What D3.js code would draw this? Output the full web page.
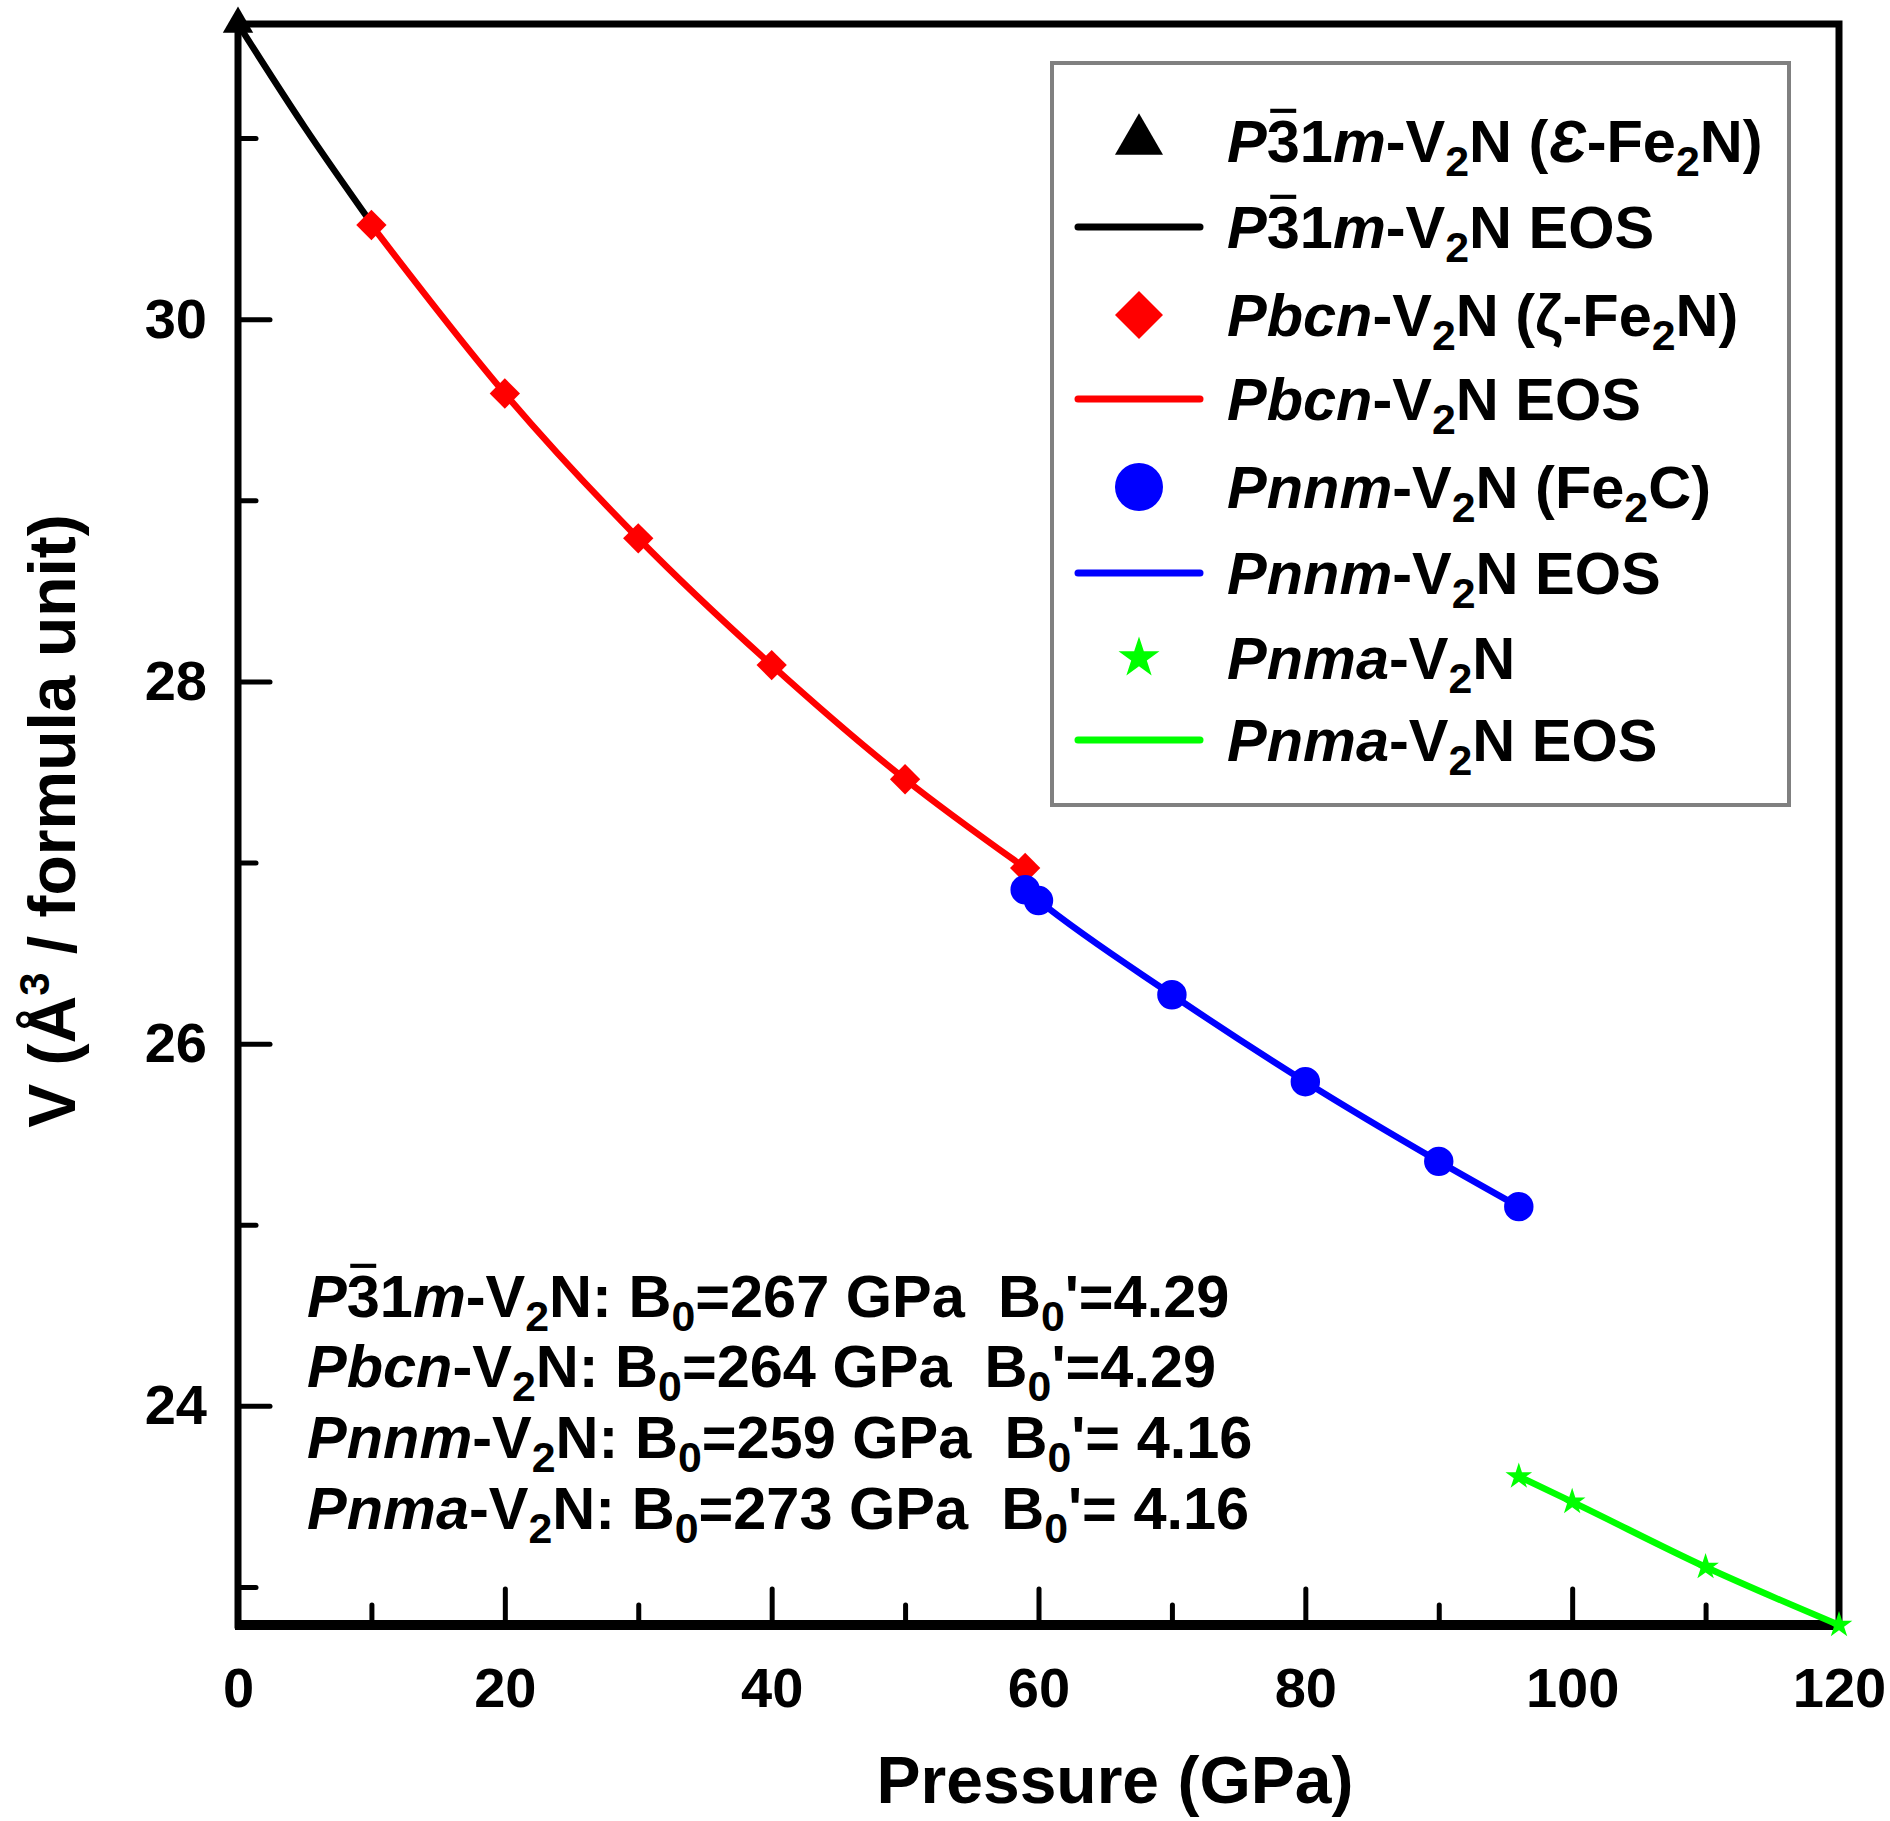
<!DOCTYPE html>
<html>
<head>
<meta charset="utf-8">
<script src="https://cdn.jsdelivr.net/npm/d3@7"></script>
<style>
  body { margin: 0; background: #fff; }
  text { font-family: "Liberation Sans", Arial, Helvetica, sans-serif; font-weight: bold; }
</style>
</head>
<body>
<div id="chart"></div>
<script>
// data (pressure in GPa, volume in A^3 per formula unit)
var p31mP = [0],
    p31mV = [31.63];
var p31mEosP = [0, 5, 10],
    p31mEosV = [31.63, 31.06, 30.53];
var pbcnP = [10, 20, 30, 40, 50, 59],
    pbcnV = [30.52, 29.59, 28.79, 28.09, 27.46, 26.97];
var pnnmP = [59, 60, 70, 80, 90, 96],
    pnnmV = [26.85, 26.79, 26.27, 25.79, 25.35, 25.10];
var pnmaP = [96, 100, 110, 120],
    pnmaV = [23.61, 23.47, 23.11, 22.79];

var xMajorTicks = [0, 20, 40, 60, 80, 100, 120],
    xMinorTicks = [10, 30, 50, 70, 90, 110],
    yMajorTicks = [24, 26, 28, 30],
    yMinorTicks = [23, 25, 27, 29, 31];

var legendLabels = [
  [{t: "P", i: 1}, {t: "3", bar: 1}, {t: "1"}, {t: "m", i: 1}, {t: "-V"}, {t: "2", sub: 1}, {t: "N ("}, {t: "\u0190", i: 1}, {t: "-Fe"}, {t: "2", sub: 1}, {t: "N)"}],
  [{t: "P", i: 1}, {t: "3", bar: 1}, {t: "1"}, {t: "m", i: 1}, {t: "-V"}, {t: "2", sub: 1}, {t: "N EOS"}],
  [{t: "Pbcn", i: 1}, {t: "-V"}, {t: "2", sub: 1}, {t: "N (\u03b6-Fe"}, {t: "2", sub: 1}, {t: "N)"}],
  [{t: "Pbcn", i: 1}, {t: "-V"}, {t: "2", sub: 1}, {t: "N EOS"}],
  [{t: "Pnnm", i: 1}, {t: "-V"}, {t: "2", sub: 1}, {t: "N (Fe"}, {t: "2", sub: 1}, {t: "C)"}],
  [{t: "Pnnm", i: 1}, {t: "-V"}, {t: "2", sub: 1}, {t: "N EOS"}],
  [{t: "Pnma", i: 1}, {t: "-V"}, {t: "2", sub: 1}, {t: "N"}],
  [{t: "Pnma", i: 1}, {t: "-V"}, {t: "2", sub: 1}, {t: "N EOS"}]
];

var noteLabels = [
  [{t: "P", i: 1}, {t: "3", bar: 1}, {t: "1"}, {t: "m", i: 1}, {t: "-V"}, {t: "2", sub: 1}, {t: "N: B"}, {t: "0", sub: 1}, {t: "=267 GPa  B"}, {t: "0", sub: 1}, {t: "'=4.29"}],
  [{t: "Pbcn", i: 1}, {t: "-V"}, {t: "2", sub: 1}, {t: "N: B"}, {t: "0", sub: 1}, {t: "=264 GPa  B"}, {t: "0", sub: 1}, {t: "'=4.29"}],
  [{t: "Pnnm", i: 1}, {t: "-V"}, {t: "2", sub: 1}, {t: "N: B"}, {t: "0", sub: 1}, {t: "=259 GPa  B"}, {t: "0", sub: 1}, {t: "'= 4.16"}],
  [{t: "Pnma", i: 1}, {t: "-V"}, {t: "2", sub: 1}, {t: "N: B"}, {t: "0", sub: 1}, {t: "=273 GPa  B"}, {t: "0", sub: 1}, {t: "'= 4.16"}]
];

var width = 1890,
    height = 1821,
    plotLeft = 238, plotRight = 1839, plotTop = 24, plotBottom = 1625;

var svg = d3.select("#chart")
            .append("svg")
            .attr("width", width)
            .attr("height", height)
            .style("background", "#fff");

var x = d3.scaleLinear().domain([0, 120]).range([plotLeft, plotRight]);
var y = d3.scaleLinear().domain([22.79, 31.63]).range([plotBottom, plotTop]);

// text made of pieces: italics, subscripts and the bar over the 3
function richText(parent, px, py, parts, size) {
  var t = parent.append("text")
                .attr("x", px)
                .attr("y", py)
                .attr("font-size", size)
                .style("white-space", "pre");
  var shift = 0, idx = 0, bars = [];
  parts.forEach(function(p) {
    var ts = t.append("tspan").text(p.t);
    if (p.i) ts.attr("font-style", "italic");
    var want = 0;
    if (p.sub) { want = size * 0.24; ts.attr("font-size", size * 0.72); }
    ts.attr("dy", want - shift);
    shift = want;
    if (p.bar) bars.push(idx);
    idx += p.t.length;
  });
  bars.forEach(function(k) {
    var s = t.node().getStartPositionOfChar(k),
        e = t.node().getEndPositionOfChar(k);
    parent.append("line")
          .attr("x1", s.x + size * 0.06)
          .attr("x2", e.x - size * 0.06)
          .attr("y1", py - size * 0.86)
          .attr("y2", py - size * 0.86)
          .attr("stroke", "#000")
          .attr("stroke-width", size * 0.07);
  });
  return t;
}

// ticks, inward, on left and bottom only
function styleAxis(g) {
  g.select(".domain").remove();
  g.selectAll(".tick line").attr("stroke", "#000").attr("stroke-width", 5).attr("stroke-linecap", "round");
  g.selectAll(".tick text").attr("fill", "#000").attr("font-size", 56)
   .attr("font-family", '"Liberation Sans", Arial, sans-serif').attr("font-weight", "bold");
}

svg.append("g")
   .attr("transform", "translate(0," + plotBottom + ")")
   .call(d3.axisBottom(x).tickValues(xMinorTicks).tickSize(-20).tickFormat(""))
   .call(styleAxis);
svg.append("g")
   .attr("transform", "translate(0," + plotBottom + ")")
   .call(d3.axisBottom(x).tickValues(xMajorTicks).tickSize(-36).tickPadding(42).tickFormat(d3.format("d")))
   .call(styleAxis);
svg.append("g")
   .attr("transform", "translate(" + plotLeft + ",0)")
   .call(d3.axisLeft(y).tickValues(yMinorTicks).tickSize(-18).tickFormat(""))
   .call(styleAxis);
svg.append("g")
   .attr("transform", "translate(" + plotLeft + ",0)")
   .call(d3.axisLeft(y).tickValues(yMajorTicks).tickSize(-32).tickPadding(31).tickFormat(d3.format("d")))
   .call(styleAxis);

// frame
svg.append("rect")
   .attr("x", plotLeft).attr("y", plotTop)
   .attr("width", plotRight - plotLeft).attr("height", plotBottom - plotTop)
   .attr("fill", "none").attr("stroke", "#000").attr("stroke-width", 7);
svg.append("line")
   .attr("x1", plotLeft - 3).attr("x2", plotRight + 3)
   .attr("y1", plotBottom).attr("y2", plotBottom)
   .attr("stroke", "#000").attr("stroke-width", 10);

// axis titles
svg.append("text")
   .attr("x", 1115).attr("y", 1803)
   .attr("text-anchor", "middle")
   .attr("font-size", 66)
   .text("Pressure (GPa)");

var yTitle = svg.append("text")
   .attr("transform", "translate(75,821) rotate(-90)")
   .attr("text-anchor", "middle")
   .attr("font-size", 66)
   .style("white-space", "pre");
yTitle.append("tspan").text("V (\u00c5");
yTitle.append("tspan").text("3").attr("font-size", 42).attr("dy", -26);
yTitle.append("tspan").text(" / formula unit)").attr("dy", 26);

// EOS curves
var line = d3.line()
             .x(function(d) { return x(d[0]); })
             .y(function(d) { return y(d[1]); })
             .curve(d3.curveMonotoneX);

var curves = [
  [p31mEosP, p31mEosV, "#000000"],
  [pbcnP, pbcnV, "#ff0000"],
  [pnnmP, pnnmV, "#0000ff"],
  [pnmaP, pnmaV, "#00ff00"]
];
curves.forEach(function(c) {
  svg.append("path")
     .datum(d3.zip(c[0], c[1]))
     .attr("d", line)
     .attr("fill", "none")
     .attr("stroke", c[2])
     .attr("stroke-width", 6.5);
});

// markers
var markers = [
  [p31mP, p31mV, d3.symbolTriangle, 400, 0, "#000000"],
  [pbcnP, pbcnV, d3.symbolSquare, 460, 45, "#ff0000"],
  [pnnmP, pnnmV, d3.symbolCircle, 680, 0, "#0000ff"],
  [pnmaP, pnmaV, d3.symbolStar, 220, 0, "#00ff00"]
];
markers.forEach(function(m) {
  svg.append("g")
     .selectAll("path")
     .data(d3.zip(m[0], m[1]))
     .enter()
     .append("path")
     .attr("d", d3.symbol().type(m[2]).size(m[3]))
     .attr("transform", function(d) {
       return "translate(" + x(d[0]) + "," + y(d[1]) + ") rotate(" + m[4] + ")";
     })
     .attr("fill", m[5]);
});

// legend
var legend = svg.append("g");
legend.append("rect")
      .attr("x", 1052).attr("y", 63)
      .attr("width", 737).attr("height", 742)
      .attr("fill", "#fff").attr("stroke", "#808080").attr("stroke-width", 4);

var rowY = [141, 227, 315, 399, 487, 573, 658, 740];
var legendKeys = [
  ["sym", d3.symbolTriangle, 1000, 0, "#000000"],
  ["line", "#000000"],
  ["sym", d3.symbolSquare, 1150, 45, "#ff0000"],
  ["line", "#ff0000"],
  ["sym", d3.symbolCircle, 1810, 0, "#0000ff"],
  ["line", "#0000ff"],
  ["sym", d3.symbolStar, 520, 0, "#00ff00"],
  ["line", "#00ff00"]
];
legendKeys.forEach(function(k, i) {
  if (k[0] === "sym") {
    legend.append("path")
          .attr("d", d3.symbol().type(k[1]).size(k[2]))
          .attr("transform", "translate(1139," + rowY[i] + ") rotate(" + k[3] + ")")
          .attr("fill", k[4]);
  } else {
    legend.append("line")
          .attr("x1", 1078).attr("x2", 1200)
          .attr("y1", rowY[i]).attr("y2", rowY[i])
          .attr("stroke", k[1]).attr("stroke-width", 7)
          .attr("stroke-linecap", "round");
  }
  richText(legend, 1227, rowY[i] + 21, legendLabels[i], 59.5);
});

// bulk modulus notes
var noteY = [1317, 1387, 1458, 1529];
noteLabels.forEach(function(parts, i) {
  richText(svg, 307, noteY[i], parts, 59.5);
});
</script>
</body>
</html>
